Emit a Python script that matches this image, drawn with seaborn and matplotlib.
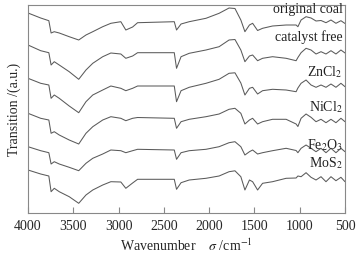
import numpy as np
import pandas as pd
import matplotlib
matplotlib.use("Agg")
import matplotlib.pyplot as plt
import seaborn as sns

wavenumber = [4000, 3860, 3770, 3745, 3710, 3655, 3545, 3440, 3360, 3285, 3175, 3085,
              2975, 2920, 2845, 2790, 2385, 2360, 2310, 2220, 2035, 1890, 1780, 1715,
              1650, 1605, 1555, 1520, 1465, 1410, 1300, 1150, 1040, 1020, 985, 930,
              875, 820, 765, 710, 655, 600, 545, 500]

original_coal = [20.0, 19.5, 19.23, 18.0, 18.13, 18.0, 17.63, 17.3, 17.8, 18.13, 18.63, 18.97,
                 19.13, 18.3, 18.6, 19.03, 19.13, 18.3, 18.9, 19.13, 19.47, 19.97, 20.5, 20.45,
                 19.3, 18.13, 18.8, 18.97, 18.25, 18.47, 18.7, 18.8, 18.8, 18.63, 19.3, 19.63,
                 19.5, 19.2, 19.25, 19.03, 19.3, 18.97, 19.23, 18.95]
catalyst_free = [16.8, 16.23, 16.03, 14.8, 15.13, 14.8, 14.13, 13.37, 14.3, 14.97, 15.63, 16.0,
                 15.9, 15.47, 15.7, 16.03, 16.03, 14.47, 15.63, 15.97, 16.3, 16.63, 17.3, 17.35,
                 16.3, 15.13, 15.7, 15.8, 15.23, 15.47, 15.63, 15.47, 15.23, 15.55, 16.03, 16.47,
                 16.3, 15.9, 16.13, 15.9, 16.23, 15.9, 16.3, 16.0]
zncl2 = [13.47, 12.97, 12.8, 11.47, 11.8, 11.47, 10.7, 10.03, 11.13, 11.8, 12.3, 12.7,
         12.47, 12.23, 12.47, 12.7, 12.7, 11.13, 12.23, 12.57, 12.97, 13.37, 13.97, 14.02,
         13.0, 11.8, 12.47, 12.57, 11.9, 12.23, 12.37, 12.3, 12.13, 12.5, 12.97, 13.3,
         12.8, 12.57, 12.8, 12.57, 12.9, 12.57, 12.97, 12.63]
nicl2 = [9.97, 9.47, 9.3, 7.97, 8.13, 7.8, 7.3, 6.9, 7.97, 8.63, 9.3, 9.63,
         9.47, 9.23, 9.47, 9.55, 9.47, 8.47, 9.13, 9.37, 9.63, 9.9, 10.37, 10.47,
         9.97, 8.9, 9.3, 9.47, 8.9, 9.13, 9.37, 9.37, 8.9, 8.65, 9.47, 9.9,
         9.57, 9.13, 9.37, 9.03, 9.37, 9.03, 9.47, 9.13]
fe2o3 = [6.63, 6.23, 6.03, 4.9, 5.13, 4.9, 4.57, 4.23, 4.97, 5.47, 5.9, 6.3,
         6.23, 6.03, 6.23, 6.37, 6.3, 5.37, 6.03, 6.23, 6.37, 6.63, 7.03, 7.13,
         6.63, 5.8, 6.13, 6.3, 5.9, 6.03, 6.23, 6.47, 6.25, 6.03, 6.47, 6.8,
         6.47, 6.13, 6.47, 6.03, 6.47, 6.03, 6.47, 6.13]
mos2 = [4.3, 3.9, 3.7, 2.13, 2.47, 2.13, 1.63, 0.97, 1.8, 2.3, 2.8, 3.13,
        3.1, 2.47, 3.0, 3.37, 3.37, 2.37, 3.03, 3.3, 3.47, 3.7, 4.13, 4.22,
        3.63, 2.3, 3.3, 3.13, 2.3, 2.97, 3.13, 3.47, 3.5, 3.7, 3.63, 4.03,
        3.57, 3.3, 3.63, 3.13, 3.63, 3.23, 3.57, 3.13]

series_names = ["original coal", "catalyst free", "ZnCl$_2$", "NiCl$_2$", "Fe$_2$O$_3$", "MoS$_2$"]
series_values = [original_coal, catalyst_free, zncl2, nicl2, fe2o3, mos2]
label_y = [20.3, 17.6, 14.1, 10.6, 6.8, 5.0]

x_ticks = [4000, 3500, 3000, 2500, 2000, 1500, 1000, 500]

sns.set_style("ticks")
plt.rcParams['font.family'] = ['Liberation Serif', 'DejaVu Serif']
plt.rcParams['mathtext.fontset'] = 'stix'

rows = []
for name, vals in zip(series_names, series_values):
    for w, v in zip(wavenumber, vals):
        rows.append({"wn": w, "T": v, "series": name})
df = pd.DataFrame(rows)

fig = plt.figure(figsize=(3.61, 2.56), dpi=100)
ax = fig.add_axes([28/361, 43/256, 317/361, 208/256])

for name in series_names:
    sns.lineplot(data=df[df.series == name], x="wn", y="T", ax=ax,
                 color="#5a5a5a", linewidth=0.75, estimator=None, sort=False)

for name, y in zip(series_names, label_y):
    ax.text(0.993, y / 20.8, name, ha="right", va="center", fontsize=10,
            color="#222222", transform=ax.transAxes)

ax.set_xlim(4000, 500)
ax.set_ylim(0, 20.8)
ax.set_xticks(x_ticks)
ax.set_xticklabels([str(t) for t in x_ticks], fontsize=10)
ax.set_yticks([])
ax.tick_params(axis="x", direction="in", length=4, color="#888888", pad=5)
for s in ax.spines.values():
    s.set_color("#888888")
    s.set_linewidth(0.8)
ax.set_xlabel(r"Wavenumber    $\sigma$ /cm$^{-1}$", fontsize=10, labelpad=3)
ax.set_ylabel("Transition /(a.u.)", fontsize=10, labelpad=5)

fig.savefig("out.png", dpi=100)
